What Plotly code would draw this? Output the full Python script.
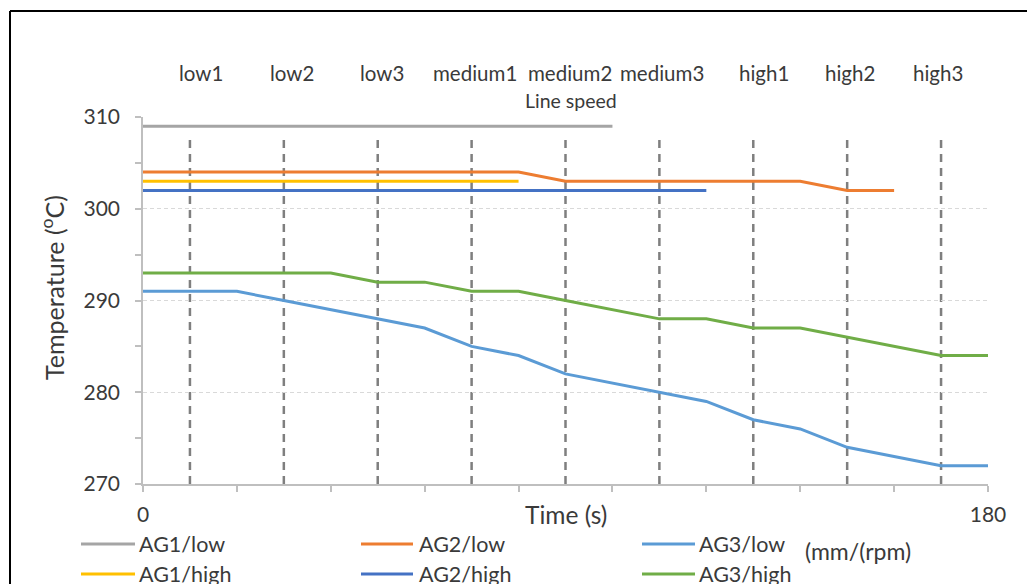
import plotly.graph_objects as go

# Sample times (s)
times = [0, 10, 20, 30, 40, 50, 60, 70, 80, 90, 100, 110, 120, 130, 140, 150, 160, 170, 180]

# Temperatures (°C) per zone / speed setting
ag1_low = [309, 309, 309, 309, 309, 309, 309, 309, 309, 309, 309,
           None, None, None, None, None, None, None, None]
ag2_low = [304, 304, 304, 304, 304, 304, 304, 304, 304, 303, 303,
           303, 303, 303, 303, 302, 302, None, None]
ag3_low = [291, 291, 291, 290, 289, 288, 287, 285, 284, 282, 281,
           280, 279, 277, 276, 274, 273, 272, 272]
ag1_high = [303, 303, 303, 303, 303, 303, 303, 303, 303,
            None, None, None, None, None, None, None, None, None, None]
ag2_high = [302, 302, 302, 302, 302, 302, 302, 302, 302, 302, 302, 302, 302,
            None, None, None, None, None, None]
ag3_high = [293, 293, 293, 293, 293, 292, 292, 291, 291, 290, 289,
            288, 288, 287, 287, 286, 285, 284, 284]

# Line-speed change markers
speed_times = [10, 30, 50, 70, 90, 110, 130, 150, 170]
speed_labels = ["low1", "low2", "low3", "medium1", "medium2", "medium3",
                "high1", "high2", "high3"]
label_shift = [11, 8, 4, 3, 4, 3, 11, 3, -3]

FONT = "Lato"
TXT = "#3A3A3A"

W, H = 1027, 584
ML, MR, MT, MB = 143, 39, 117, 100
PW, PH = W - ML - MR, H - MT - MB


def px(xp):
    return (xp - ML) / PW


def py(yp):
    return (H - MB - yp) / PH


series = [
    ("AG1/low", ag1_low, "#A5A5A5"),
    ("AG2/low", ag2_low, "#ED7D31"),
    ("AG3/low", ag3_low, "#5B9BD5"),
    ("AG1/high", ag1_high, "#FFC000"),
    ("AG2/high", ag2_high, "#4472C4"),
    ("AG3/high", ag3_high, "#70AD47"),
]

fig = go.Figure()
for name, vals, color in series:
    fig.add_trace(go.Scatter(
        x=times, y=vals, name=name, mode="lines",
        line=dict(color=color, width=3), showlegend=False,
    ))

# vertical dashed markers for each speed step
for t in speed_times:
    fig.add_shape(type="line", xref="x", yref="y", x0=t, x1=t, y0=270, y1=308,
                  line=dict(color="#7F7F7F", width=2.5, dash="8px,6px"), layer="below")


def label(x, y, text, size, xref="paper", xanchor="center", **kw):
    fig.add_annotation(x=x, y=y, xref=xref, yref="paper", text=text, showarrow=False,
                       xanchor=xanchor, yanchor="middle",
                       font=dict(family=FONT, size=size, color=TXT), **kw)


for t, lab, dx in zip(speed_times, speed_labels, label_shift):
    label(t, py(73), lab, 20.5, xref="x", xshift=dx)
label(91.2, py(100), "Line speed", 19.5, xref="x")

label(px(566), py(514), "Time (s)", 24.5)
label(px(52), py(288), "Temperature (<sup>o</sup>C)", 25, textangle=-90)
label(px(858), py(551), "(mm/(rpm)", 23)

# legend: three columns, two rows
legend_cols = [(81, 135, 137), (361, 413, 417), (642, 695, 697)]
legend_rows = [544, 574]
legend_order = [[0, 3], [1, 4], [2, 5]]
for (x0, x1, xt), idxs in zip(legend_cols, legend_order):
    for yr, i in zip(legend_rows, idxs):
        name, _, color = series[i]
        fig.add_shape(type="line", xref="paper", yref="paper", x0=px(x0), x1=px(x1),
                      y0=py(yr), y1=py(yr), line=dict(color=color, width=3))
        label(px(xt), py(yr), name, 21.5, xanchor="left")

# outer frame
fig.add_shape(type="line", xref="paper", yref="paper", x0=px(10), x1=px(10),
              y0=py(600), y1=py(11), line=dict(color="black", width=2))
fig.add_shape(type="line", xref="paper", yref="paper", x0=px(10), x1=px(1040),
              y0=py(11), y1=py(11), line=dict(color="black", width=2))

fig.update_layout(
    width=W, height=H,
    margin=dict(l=ML, r=MR, t=MT, b=MB, autoexpand=False),
    paper_bgcolor="white", plot_bgcolor="white",
    font=dict(family=FONT, color=TXT, size=18),
    showlegend=False,
    xaxis=dict(range=[0, 180], showgrid=False, zeroline=False,
               showline=True, linecolor="#BFBFBF", linewidth=1.5,
               tickmode="array", tickvals=[0, 180], ticktext=["0", "180"],
               ticks="outside", ticklen=6, tickcolor="#BFBFBF", tickwidth=1.5,
               ticklabelstandoff=5,
               minor=dict(dtick=20, tick0=0, ticks="outside", ticklen=6,
                          tickcolor="#BFBFBF", tickwidth=1.5),
               tickfont=dict(family=FONT, size=21, color=TXT)),
    yaxis=dict(range=[270, 310], showgrid=True, gridcolor="#D9D9D9", gridwidth=1,
               griddash="4px,3px", zeroline=False,
               showline=True, linecolor="#BFBFBF", linewidth=1.5,
               tickmode="array", tickvals=[270, 280, 290, 300, 310],
               ticks="outside", ticklen=6, tickcolor="#BFBFBF", tickwidth=1.5,
               ticklabelstandoff=11,
               minor=dict(dtick=5, tick0=270, ticks="outside", ticklen=6,
                          tickcolor="#BFBFBF", tickwidth=1.5, showgrid=False),
               tickfont=dict(family=FONT, size=21, color=TXT)),
)

fig.write_html("out.html")
